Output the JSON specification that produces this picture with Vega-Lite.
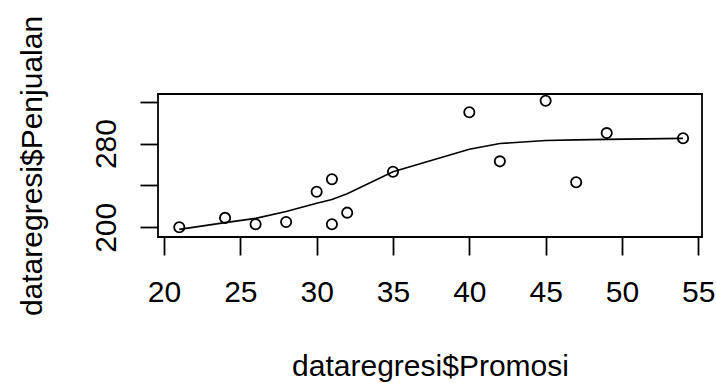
{
  "$schema": "https://vega.github.io/schema/vega-lite/v6.json",
  "autosize": "none",
  "width": 544,
  "height": 143,
  "padding": {"left": 158, "top": 94, "right": 14, "bottom": 146},
  "background": "white",
  "config": {
    "view": {"stroke": "black", "strokeWidth": 1.8},
    "font": "Liberation Sans",
    "axis": {"grid": false, "domain": false, "tickColor": "black", "tickWidth": 1.8, "tickSize": 18, "labelColor": "black", "titleColor": "black", "labelFont": "Liberation Sans", "titleFont": "Liberation Sans", "titleFontWeight": "normal", "labelFontSize": 30, "titleFontSize": 30}
  },
  "layer": [
    {
      "data": {"values": [
        {"Promosi": 21, "Penjualan": 200},
        {"Promosi": 24, "Penjualan": 209},
        {"Promosi": 26, "Penjualan": 203},
        {"Promosi": 28, "Penjualan": 205},
        {"Promosi": 30, "Penjualan": 234},
        {"Promosi": 31, "Penjualan": 246},
        {"Promosi": 31, "Penjualan": 203},
        {"Promosi": 32, "Penjualan": 214},
        {"Promosi": 35, "Penjualan": 253},
        {"Promosi": 40, "Penjualan": 310},
        {"Promosi": 42, "Penjualan": 263},
        {"Promosi": 45, "Penjualan": 321},
        {"Promosi": 47, "Penjualan": 243},
        {"Promosi": 49, "Penjualan": 290},
        {"Promosi": 54, "Penjualan": 285}
      ]},
      "mark": {"type": "point", "shape": "circle", "filled": false, "color": "black", "size": 105, "strokeWidth": 1.8, "opacity": 1, "clip": false},
      "encoding": {
        "x": {"field": "Promosi", "type": "quantitative", "scale": {"domain": [19.607, 55.242], "nice": false, "zero": false},
          "axis": {"values": [20, 25, 30, 35, 40, 45, 50, 55], "title": "dataregresi$Promosi", "labelBaseline": "alphabetic", "labelPadding": 46, "labelFlush": false, "labelOverlap": false, "titleX": 272, "titleY": 138, "titleAnchor": null, "titleAlign": "center", "titleBaseline": "alphabetic"}},
        "y": {"field": "Penjualan", "type": "quantitative", "scale": {"domain": [190.73, 327.36], "nice": false, "zero": false},
          "axis": {"values": [200, 220, 240, 260, 280, 300, 320], "labelExpr": "datum.value == 200 || datum.value == 280 ? datum.label : ''", "labelAngle": 270, "labelAlign": "center", "labelBaseline": "alphabetic", "labelPadding": 25, "labelFlush": false, "labelOverlap": false, "title": "dataregresi$Penjualan", "titleAngle": 270, "titleX": -117, "titleY": 71.5, "titleAlign": "center", "titleBaseline": "alphabetic"}}
      }
    },
    {
      "data": {"values": [
        {"Promosi": 21, "Fit": 198},
        {"Promosi": 24, "Fit": 204.5},
        {"Promosi": 26, "Fit": 208.5},
        {"Promosi": 28, "Fit": 215},
        {"Promosi": 30, "Fit": 223},
        {"Promosi": 31, "Fit": 226.5},
        {"Promosi": 32, "Fit": 232},
        {"Promosi": 35, "Fit": 253},
        {"Promosi": 40, "Fit": 274.5},
        {"Promosi": 42, "Fit": 280},
        {"Promosi": 45, "Fit": 283},
        {"Promosi": 47, "Fit": 283.5},
        {"Promosi": 49, "Fit": 284},
        {"Promosi": 54, "Fit": 285}
      ]},
      "mark": {"type": "line", "color": "black", "strokeWidth": 1.6},
      "encoding": {
        "x": {"field": "Promosi", "type": "quantitative"},
        "y": {"field": "Fit", "type": "quantitative"}
      }
    }
  ]
}
